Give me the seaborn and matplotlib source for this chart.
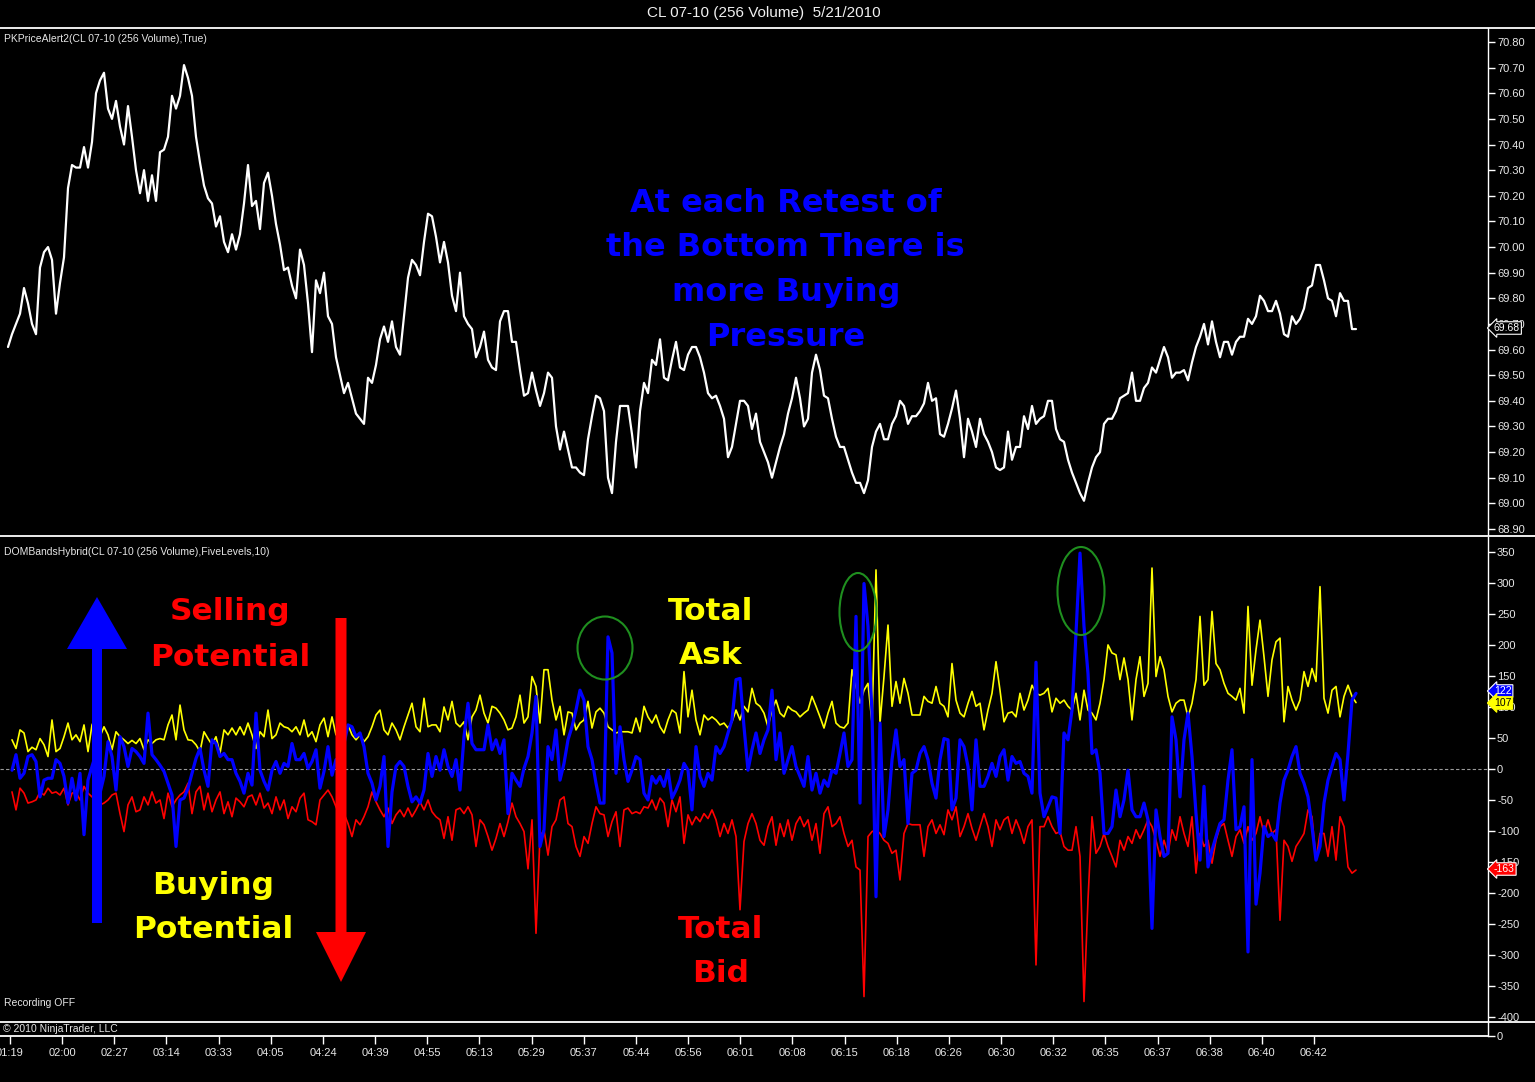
import numpy as np
import matplotlib
matplotlib.use('Agg')
import matplotlib.pyplot as plt
from matplotlib.lines import Line2D
from matplotlib.patches import FancyArrow, Ellipse
import seaborn as sns

# price panel (one value per 256-volume bar)
price = [
    69.61, 69.66, 69.70, 69.74, 69.84, 69.78, 69.70, 69.66, 69.92, 69.98,
    70.00, 69.95, 69.74, 69.86, 69.96, 70.23, 70.32, 70.31, 70.31, 70.39,
    70.31, 70.41, 70.60, 70.65, 70.68, 70.54, 70.50, 70.57, 70.47, 70.40,
    70.55, 70.43, 70.30, 70.21, 70.30, 70.18, 70.28, 70.18, 70.37, 70.38,
    70.43, 70.59, 70.54, 70.59, 70.71, 70.66, 70.59, 70.43, 70.33, 70.24,
    70.19, 70.17, 70.08, 70.12, 70.02, 69.98, 70.05, 69.99, 70.05, 70.17,
    70.32, 70.16, 70.18, 70.07, 70.25, 70.29, 70.20, 70.09, 70.01, 69.91,
    69.92, 69.85, 69.80, 69.99, 69.93, 69.78, 69.59, 69.87, 69.82, 69.90,
    69.73, 69.70, 69.57, 69.50, 69.43, 69.47, 69.41, 69.35, 69.33, 69.31,
    69.49, 69.47, 69.54, 69.64, 69.69, 69.63, 69.71, 69.61, 69.58, 69.73,
    69.88, 69.95, 69.93, 69.89, 70.02, 70.13, 70.12, 70.04, 69.94, 70.02,
    69.94, 69.81, 69.75,
    69.90, 69.73, 69.70, 69.68, 69.57, 69.61, 69.67, 69.56, 69.53, 69.52,
    69.71, 69.75, 69.75, 69.63, 69.63, 69.52, 69.42, 69.43, 69.51, 69.44,
    69.38, 69.43, 69.51, 69.49, 69.30, 69.21, 69.28, 69.21, 69.14, 69.14,
    69.12, 69.11, 69.25, 69.34, 69.42, 69.41, 69.36, 69.10, 69.04, 69.24,
    69.38, 69.38, 69.38, 69.27, 69.14, 69.36, 69.47, 69.43, 69.56, 69.54,
    69.64, 69.49, 69.48, 69.56, 69.63, 69.53, 69.52, 69.58, 69.61, 69.61,
    69.57, 69.51, 69.43, 69.41, 69.42, 69.38, 69.33, 69.18, 69.22, 69.31,
    69.40, 69.40, 69.38, 69.29, 69.35, 69.24, 69.20, 69.16, 69.10, 69.16,
    69.22, 69.27, 69.35, 69.41, 69.49, 69.41, 69.30, 69.33, 69.51, 69.58,
    69.52, 69.42, 69.41, 69.33, 69.26, 69.22, 69.22, 69.17, 69.12, 69.08,
    69.08, 69.04, 69.09, 69.22, 69.28, 69.31,
    69.25, 69.25, 69.31, 69.34, 69.40, 69.38, 69.31, 69.34, 69.34, 69.36,
    69.39, 69.47, 69.40, 69.41, 69.27, 69.26, 69.31, 69.37, 69.44, 69.33,
    69.18, 69.33, 69.28, 69.22, 69.33, 69.27, 69.24, 69.20, 69.14, 69.13,
    69.14, 69.28, 69.17, 69.22, 69.22, 69.34, 69.29, 69.38, 69.31, 69.33,
    69.34, 69.40, 69.40, 69.29, 69.25, 69.24, 69.17, 69.12, 69.08, 69.04,
    69.01, 69.08, 69.14, 69.18, 69.20, 69.31, 69.33, 69.33, 69.36, 69.41,
    69.42, 69.43, 69.51, 69.40, 69.40, 69.45, 69.47, 69.53, 69.51, 69.56,
    69.61, 69.57, 69.49, 69.51, 69.51, 69.52, 69.48, 69.55, 69.61, 69.65,
    69.70, 69.62, 69.71, 69.63, 69.57, 69.63, 69.63, 69.58, 69.63, 69.65,
    69.65, 69.72, 69.70, 69.73, 69.81, 69.79, 69.75, 69.75, 69.79, 69.74,
    69.66, 69.65, 69.73, 69.70, 69.72, 69.76, 69.84, 69.85, 69.93, 69.93,
    69.87, 69.80, 69.79, 69.73, 69.82, 69.79, 69.79, 69.68, 69.68,
]

# DOM panel, starts one bar after the price
total_ask = [
    47, 33, 63, 58, 28, 35, 31, 49, 39, 20, 79, 28, 33, 52, 74, 47, 55, 44, 71, 28,
    71, 84, 52, 68, 55, 31, 60, 52, 47, 41, 46, 41, 49, 31, 47, 41, 47, 49, 47, 71,
    87, 47, 103, 63, 47, 46, 39, 28, 60, 49, 39, 52, 25, 63, 55, 66, 55, 68, 55, 74,
    55, 33, 60, 52, 95, 49, 55, 74, 68, 66, 60, 68, 55, 79, 52, 60, 44, 71, 82, 52,
    84, 55, 58, 44, 71, 55, 47, 55, 44, 52, 68, 87, 95, 63, 55, 74, 63, 47, 68, 87,
    106, 68, 60, 114, 68, 71, 71, 60, 100, 79, 109, 74,
    68, 76, 47, 84, 95, 119, 90, 74, 101, 98, 90, 79, 63, 66, 84, 119, 74, 84, 149, 133,
    74, 160, 160, 111, 79, 101, 55, 92, 90, 63, 74, 79, 109, 66, 92, 98, 90, 68, 63, 58,
    60, 60, 60, 58, 82, 60, 101, 84, 74, 87, 68, 58, 79, 95, 90, 58, 157, 84, 127, 79,
    55, 87, 79, 84, 79, 71, 74, 66, 76, 95, 79, 101, 92, 130, 106, 101, 90, 68, 95, 111,
    90, 84, 101, 95, 92, 84, 90, 95, 117, 101, 84, 66, 90, 109, 74, 68, 66, 74, 160, 133,
    106, 127, 138, 74, 321, 74, 149, 232, 101, 141, 106, 146, 122, 87,
    87, 87, 117, 109, 106, 133, 106, 101, 84, 170, 111, 90, 84, 106, 125, 101, 106, 63, 95, 122,
    173, 127, 76, 90, 92, 84, 122, 95, 111, 135, 122, 119, 122, 130, 92, 114, 106, 111, 101, 95,
    122, 79, 127, 95, 90, 79, 106, 144, 200, 187, 184, 144, 179, 144, 79, 144, 181, 117, 138, 324,
    149, 181, 160, 117, 92, 106, 111, 111, 84, 106, 144, 246, 135, 144, 254, 170, 160, 138, 122, 117,
    111, 130, 90, 262, 135, 192, 240, 181, 117, 176, 205, 211, 76, 133, 111, 95, 111, 157, 133, 162,
    141, 294, 114, 90, 127, 133, 84, 117, 135, 117, 107,
]

total_bid = [
    -37, -66, -31, -39, -55, -53, -50, -37, -42, -31, -39, -37, -42, -31, -58, -39, -37, -50, -28, -39,
    -45, -50, -58, -55, -50, -42, -39, -72, -101, -58, -45, -69, -66, -45, -58, -37, -55, -50, -80, -39,
    -61, -50, -42, -37, -23, -72, -37, -28, -66, -39, -69, -50, -37, -72, -53, -77, -47, -53, -61, -45,
    -42, -58, -39, -63, -55, -72, -45, -66, -50, -80, -61, -69, -47, -39, -82, -85, -90, -50, -42, -34,
    -45, -61, -77, -72, -88, -109, -82, -90, -77, -61, -37, -53, -66, -77, -63, -88, -74, -66, -77, -63,
    -77, -66, -53, -66, -50, -69, -77, -82, -112, -77, -115, -66,
    -63, -72, -61, -74, -125, -82, -90, -109, -131, -112, -88, -109, -85, -55, -77, -88, -101, -161, -82, -265,
    -109, -98, -139, -93, -82, -50, -45, -88, -93, -125, -141, -109, -120, -88, -61, -72, -74, -109, -85, -69,
    -125, -66, -63, -72, -69, -72, -61, -63, -50, -66, -47, -55, -93, -50, -69, -45, -120, -74, -90, -77,
    -85, -72, -80, -66, -82, -109, -88, -104, -82, -109, -227, -117, -88, -72, -88, -115, -123, -93, -77, -123,
    -88, -109, -82, -115, -88, -77, -93, -82, -115, -88, -136, -72, -61, -93, -88, -77, -104, -125, -115, -158,
    -163, -367, -109, -101, -98, -104, -115, -120, -136, -131, -179, -104, -88, -90,
    -90, -90, -141, -93, -82, -104, -90, -106, -66, -82, -61, -109, -93, -72, -96, -115, -93, -72, -93, -125,
    -82, -98, -82, -77, -104, -82, -98, -120, -93, -82, -316, -93, -93, -77, -93, -104, -101, -125, -131, -131,
    -93, -141, -375, -211, -77, -136, -125, -104, -125, -141, -158, -115, -131, -109, -120, -98, -112, -98, -82, -93,
    -115, -141, -115, -136, -98, -115, -77, -104, -125, -77, -168, -104, -125, -115, -152, -115, -93, -88, -115, -141,
    -109, -98, -120, -93, -115, -104, -77, -104, -82, -104, -98, -244, -115, -125, -149, -125, -115, -104, -66, -77,
    -147, -104, -104, -141, -93, -147, -77, -93, -158, -168, -163,
]

net_dom = [
    -2, 23, -15, -7, 20, 23, 12, -45, -18, -15, -15, 15, 9, -12, -55, -15, -50, -7, -106, -18,
    4, 25, -39, -12, 44, 20, -34, 52, 36, 4, 33, 28, 20, 9, 90, 23, 15, 6, -4, -23,
    -42, -125, -50, -47, -31, -7, 17, 33, -2, -28, 47, 41, 20, 25, 15, 15, -7, -20, -39, -7,
    -26, 90, -2, -20, -34, -2, 12, -7, 9, 4, 41, 15, 15, 25, 1, 12, 31, -31, -4, 36,
    -10, 15, 4, 41, 71, 68, 52, 58, 36, -7, -23, -50, -28, 20, -125, -37, 4, 12, 4, -28,
    -53, -45, -55, -34, 25, -12, 20, -2, 31, 4, -12, 15,
    -34, 52, 106, 41, 31, 31, 31, 71, 31, 47, 25, 47, -72, -7, -18, -28, 1, 20, 58, 117,
    -125, -98, 36, 15, 63, -18, 9, 47, 68, 95, 127, 111, 36, 15, -23, -55, -55, 213, 187, -7,
    68, 15, -20, -2, 20, 15, -39, -50, -12, -23, -12, -28, -2, -47, -34, -18, 9, -2, -66, 36,
    -12, -28, -7, -18, 36, 25, 36, 58, 79, 144, 146, 68, -2, 31, 58, 25, 47, 63, 127, 15,
    58, -7, 15, 36, 4, -12, -28, 20, -34, -7, -39, -18, -28, -2, -7, 25, 58, 4, 15, 246,
    -55, 299, 230, 90, -206, 74, -109, -66, 15, 63, 4, 15, -88, -7,
    -2, 25, 36, 15, -23, -47, 15, 49, 47, -66, -47, 47, 36, 4, -66, 47, -28, -28, -12, 9,
    -12, 20, 31, -18, 20, 9, 12, -7, -12, -39, 172, -39, -77, -61, -45, -47, -104, 58, 47, 95,
    219, 348, 230, 154, 25, 31, -7, -104, -104, -93, -34, -77, -50, -2, -66, -77, -77, -55, -82, -257,
    -66, -109, -141, -136, 84, 47, -45, 47, 90, 20, -72, -147, -28, -158, -131, -109, -88, -82, -18, 31,
    -98, -93, -61, -295, 15, -218, -168, -93, -109, -104, -115, -55, -18, -2, 20, 36, -7, -23, -45, -93,
    -147, -125, -55, -18, 4, 25, 15, -50, 25, 111, 122,
]

time_labels = ['01:19', '02:00', '02:27', '03:14', '03:33', '04:05', '04:24', '04:39', '04:55',
               '05:13', '05:29', '05:37', '05:44', '05:56', '06:01', '06:08', '06:15', '06:18',
               '06:26', '06:30', '06:32', '06:35', '06:37', '06:38', '06:40', '06:42']
price_ticks = [68.90, 69.00, 69.10, 69.20, 69.30, 69.40, 69.50, 69.60, 69.70, 69.80, 69.90,
               70.00, 70.10, 70.20, 70.30, 70.40, 70.50, 70.60, 70.70, 70.80]
dom_ticks = [-400, -350, -300, -250, -200, -150, -100, -50, 0, 50, 100, 150, 200, 250, 300, 350]

W, H = 1535, 1082
sns.set_theme(style='dark')
plt.rcParams['font.family'] = ['Liberation Sans', 'DejaVu Sans']
plt.rcParams['axes.facecolor'] = 'black'
plt.rcParams['figure.facecolor'] = 'black'

fig = plt.figure(figsize=(W / 100, H / 100), dpi=100, facecolor='black')


def fx(px):
    return px / W


def fy(py):
    return 1 - py / H


def inch(px, py):
    return px / 100, (H - py) / 100


right = fx(1488)
ax1 = fig.add_axes([0, fy(535), right, fy(28) - fy(535)])
ax2 = fig.add_axes([0, fy(1022), right, fy(537) - fy(1022)])
ax3 = fig.add_axes([0, fy(1036), right, fy(1022) - fy(1036)])


def style(ax):
    ax.set_facecolor('black')
    ax.grid(False)
    for s in ['left', 'top', 'bottom']:
        ax.spines[s].set_visible(False)
    ax.spines['right'].set_color('white')
    ax.spines['right'].set_linewidth(1.0)
    ax.yaxis.tick_right()
    ax.tick_params(axis='y', which='both', left=False, right=True, colors='white',
                   labelcolor='#e8e8e8', length=5, width=1, labelsize=8, pad=1.5, direction='out')
    ax.tick_params(axis='x', bottom=False, labelbottom=False)
    ax.set_xlim(-2, 370)
    ax.set_xlabel('')
    ax.set_ylabel('')


x_price = np.arange(len(price))
sns.lineplot(x=x_price, y=price, ax=ax1, color='white', linewidth=1.6,
             estimator=None, sort=False, legend=False)
style(ax1)
ax1.set_ylim(68.8765, 70.8546)
ax1.set_yticks(price_ticks)
ax1.set_yticklabels(['%.2f' % t for t in price_ticks])

ax2.axhline(0, color='#9a9a9a', lw=0.8, ls=(0, (3, 2)), zorder=1)
sns.lineplot(x=np.arange(1, 1 + len(total_ask)), y=total_ask, ax=ax2, color='#ffff00',
             linewidth=1.2, estimator=None, sort=False, legend=False, zorder=2)
sns.lineplot(x=np.arange(1, 1 + len(total_bid)), y=total_bid, ax=ax2, color='#ff0000',
             linewidth=1.2, estimator=None, sort=False, legend=False, zorder=3)
sns.lineplot(x=np.arange(1, 1 + len(net_dom)), y=net_dom, ax=ax2, color='#0000ff',
             linewidth=2.3, estimator=None, sort=False, legend=False, zorder=4)
style(ax2)
ax2.set_ylim(-408, 374)
ax2.set_yticks(dom_ticks)
ax2.set_yticklabels([str(t) for t in dom_ticks])

style(ax3)
ax3.set_ylim(0, 1)
ax3.set_yticks([0])
ax3.set_yticklabels(['0'])
ax3.set_xticks(np.linspace(0.5, 326.5, len(time_labels)))
ax3.set_xticklabels(time_labels)
ax3.tick_params(axis='x', bottom=True, labelbottom=True, colors='white', labelcolor='#e8e8e8',
                length=6, width=1, labelsize=8, pad=3, direction='out')

# panel separators
for py, x1 in [(27.5, 1), (536, 1), (1022, 1), (1036, right)]:
    fig.add_artist(Line2D([0, x1], [fy(py), fy(py)], color='white', lw=1.3,
                          transform=fig.transFigure))

# header texts
fig.text(fx(764), fy(13), 'CL 07-10 (256 Volume)  5/21/2010', ha='center', va='center',
         color='#f0f0f0', fontsize=11)
small = dict(ha='left', va='center', color='#e6e6e6', fontsize=7.5)
fig.text(fx(4), fy(39), 'PKPriceAlert2(CL 07-10 (256 Volume),True)', **small)
fig.text(fx(4), fy(552), 'DOMBandsHybrid(CL 07-10 (256 Volume),FiveLevels,10)', **small)
fig.text(fx(4), fy(1003), 'Recording OFF', **small)
fig.text(fx(3), fy(1029), '\u00a9 2010 NinjaTrader, LLC', **small)

# value flags on the right axis
flag = dict(ha='left', va='center', fontsize=7.5, zorder=10)
fig.text(fx(1494), fy(328), '69.68', color='white',
         bbox=dict(boxstyle='larrow,pad=0.12', fc='black', ec='white', lw=0.8), **flag)
fig.text(fx(1494), fy(691), '122', color='white',
         bbox=dict(boxstyle='larrow,pad=0.12', fc='#0000ff', ec='white', lw=0.8), **flag)
fig.text(fx(1494), fy(703), '107', color='black',
         bbox=dict(boxstyle='larrow,pad=0.12', fc='#ffff00', ec='#ffff00', lw=0.8), **flag)
fig.text(fx(1494), fy(869), '-163', color='white',
         bbox=dict(boxstyle='larrow,pad=0.12', fc='#ff0000', ec='white', lw=0.8), **flag)

# annotations
big = dict(ha='center', va='center', fontweight='bold', family=['DejaVu Sans'], zorder=6)
for s, px, py in [('At each Retest of', 786, 203), ('the Bottom There is', 785, 248),
                  ('more Buying', 786, 293), ('Pressure', 786, 337)]:
    fig.text(fx(px), fy(py), s, color='#0000ff', fontsize=23, **big)
for s, px, py, c in [('Selling', 230, 612, '#ff0000'), ('Potential', 230, 657, '#ff0000'),
                     ('Total', 711, 611, '#ffff00'), ('Ask', 711, 656, '#ffff00'),
                     ('Buying', 213, 886, '#ffff00'), ('Potential', 213, 930, '#ffff00'),
                     ('Total', 721, 930, '#ff0000'), ('Bid', 721, 973, '#ff0000')]:
    fig.text(fx(px), fy(py), s, color=c, fontsize=22.5, **big)

# big arrows
tx, ty = inch(97, 923)
hx, hy = inch(97, 597)
fig.add_artist(FancyArrow(tx, ty, 0, hy - ty, width=0.10, head_width=0.60, head_length=0.52,
                          length_includes_head=True, color='#0000ff', lw=0,
                          transform=fig.dpi_scale_trans, zorder=5))
tx, ty = inch(341, 618)
hx, hy = inch(341, 982)
fig.add_artist(FancyArrow(tx, ty, 0, hy - ty, width=0.11, head_width=0.50, head_length=0.50,
                          length_includes_head=True, color='#ff0000', lw=0,
                          transform=fig.dpi_scale_trans, zorder=5))

# green circles around the net spikes
for px, py, w, h in [(605, 648, 55, 63), (858, 612, 37, 78), (1081, 591, 47, 88)]:
    cx, cy = inch(px, py)
    fig.add_artist(Ellipse((cx, cy), w / 100, h / 100, fill=False, ec='#1f8f1f', lw=1.5,
                           transform=fig.dpi_scale_trans, zorder=5))

fig.savefig('out.png', dpi=100, facecolor='black')
